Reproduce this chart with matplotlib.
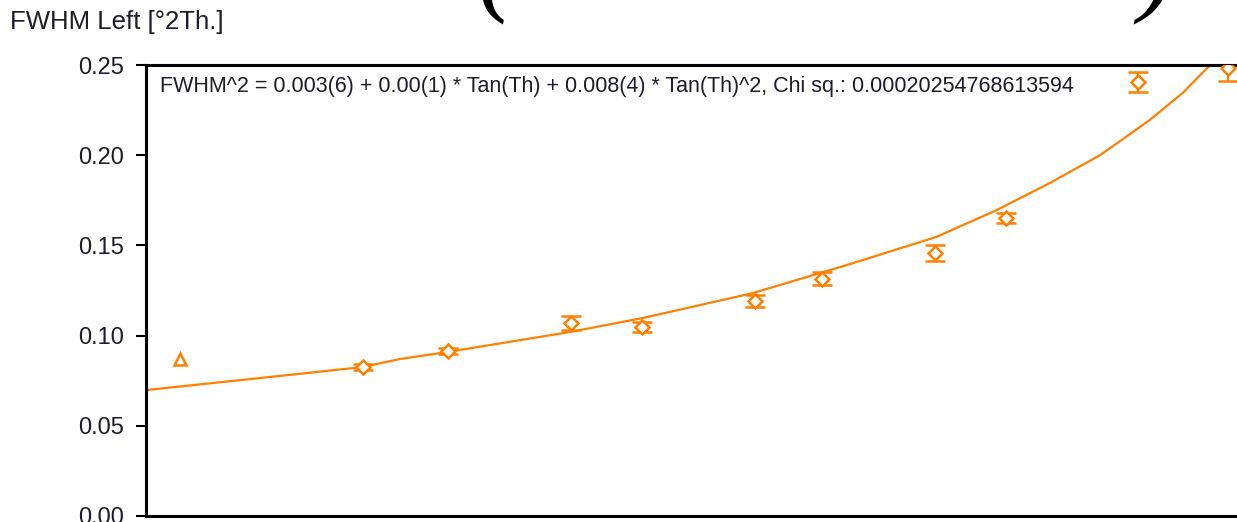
import matplotlib
matplotlib.use("Agg")
import matplotlib.pyplot as plt

# measured points (x in °2Th., FWHM in °2Th.)
two_theta = [23.7, 43.7, 53.0, 66.4, 74.2, 86.5, 93.8, 106.2, 113.9, 128.3, 138.1]
fwhm_left = [0.0870, 0.0826, 0.0915, 0.1070, 0.1048, 0.1192, 0.1314, 0.1458, 0.1652, 0.2406, 0.2483]
fwhm_err = [0.0, 0.0015, 0.0015, 0.0039, 0.0030, 0.0035, 0.0036, 0.0042, 0.0030, 0.0055, 0.0070]

# fitted curve
fit_x = [20.0, 31.4, 43.7, 47.7, 52.9, 66.3, 74.3, 86.3, 96.9, 106.3, 112.9, 118.7, 124.2, 129.6, 133.2, 136.2]
fit_y = [0.0698, 0.0759, 0.0826, 0.0870, 0.0909, 0.1020, 0.1098, 0.1236, 0.1397, 0.1547, 0.1696, 0.1846, 0.2001, 0.2195, 0.2345, 0.2500]

y_ticks = [0.00, 0.05, 0.10, 0.15, 0.20, 0.25]
fit_label = "FWHM^2 = 0.003(6) + 0.00(1) * Tan(Th) + 0.008(4) * Tan(Th)^2, Chi sq.: 0.00020254768613594"

orange = "#ff8000"
txt_col = "#1c1c2c"
W, H = 1237, 522

fig = plt.figure(figsize=(W / 100, H / 100), dpi=100)
ax = fig.add_axes([146 / W, 1 - 516 / H, (1245 - 146) / W, (516 - 65) / H])

ax.plot(fit_x, fit_y, color=orange, lw=1.6, zorder=2)

# first point drawn as a triangle, the rest as open diamonds with error bars
ax.plot(two_theta[:1], fwhm_left[:1], linestyle="none", marker="^", ms=8,
        mfc="white", mec=orange, mew=1.8, zorder=3)
ax.errorbar(two_theta[1:], fwhm_left[1:], yerr=fwhm_err[1:], fmt="D", ms=7,
            mfc="white", mec=orange, mew=1.8, ecolor=orange, elinewidth=1.5,
            capsize=7, capthick=2, zorder=3)

ax.set_xlim(20, 140)
ax.set_ylim(0, 0.25)
ax.set_yticks(y_ticks)
ax.set_yticklabels(["%.2f" % v for v in y_ticks], family="Liberation Sans")
ax.set_xticks([])
ax.tick_params(axis="y", direction="out", length=7, width=1.5, pad=9,
               labelsize=17, labelcolor=txt_col)
for s in ["left", "top", "bottom"]:
    ax.spines[s].set_linewidth(2.2)
    ax.spines[s].set_color("black")
ax.spines["right"].set_visible(False)

fig.text(160 / W, 1 - 86 / H, fit_label, fontsize=15.5, family="Liberation Sans",
         color=txt_col, va="center", ha="left")

fig.text(10 / W, 1 - 22 / H, "FWHM Left [°2Th.]", fontsize=18.5, family="Liberation Sans",
         color=txt_col, va="center", ha="left")

# large formula cut off at the top edge of the picture
fig.text(477 / W, 1 - 25 / H, "(", fontsize=80, family="Liberation Serif",
         style="italic", va="bottom", ha="left")
fig.text(1138 / W, 1 - 25 / H, ")", fontsize=80, family="Liberation Serif",
         style="italic", va="bottom", ha="left")

fig.savefig("out.png", dpi=100)
